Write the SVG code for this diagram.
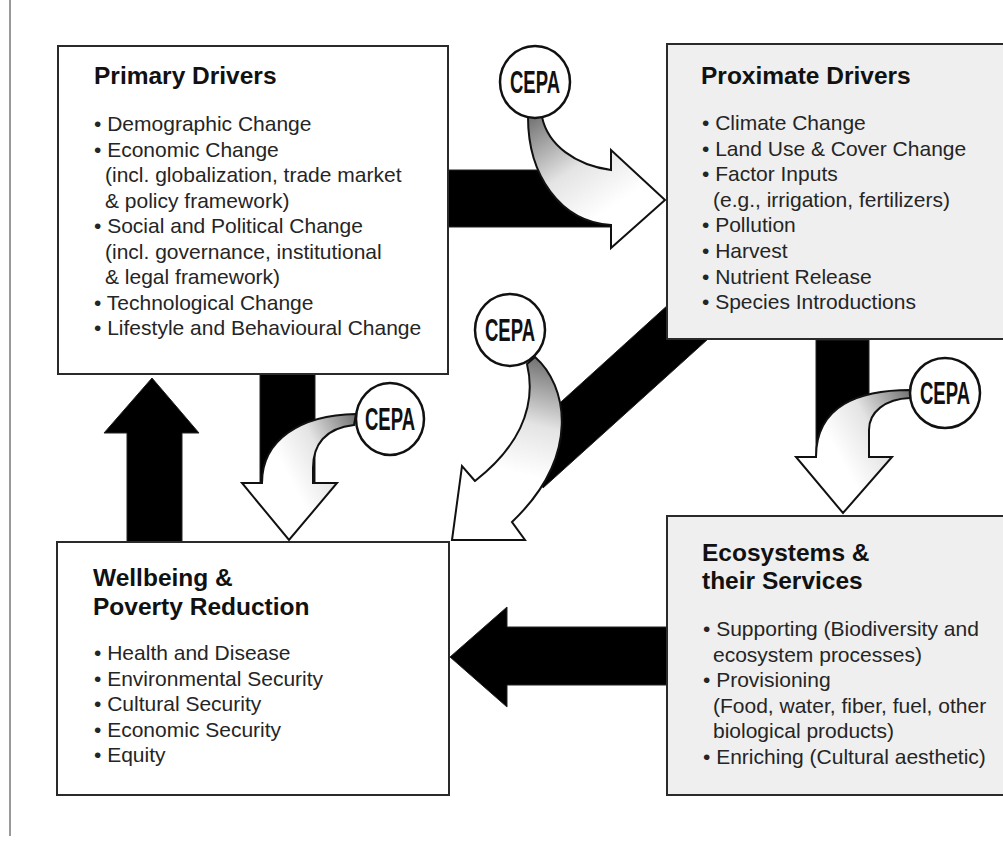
<svg xmlns="http://www.w3.org/2000/svg" width="1003" height="843" viewBox="0 0 1003 843">
<style>
.box{stroke:#2a2a2a;stroke-width:2}
.white{fill:#fff}
.gray{fill:#efefef}
.title{font-family:"Liberation Sans",Arial,sans-serif;font-weight:bold;font-size:24.5px;fill:#111}
.body{font-family:"Liberation Sans",Arial,sans-serif;font-size:21px;fill:#252525}
.blk{fill:#000;stroke:#222;stroke-width:1}
.wa{stroke:#111;stroke-width:2;stroke-linejoin:miter}
.cepa{fill:#fff;stroke:#111;stroke-width:2.5}
.ct{font-family:"Liberation Sans",Arial,sans-serif;font-weight:bold;font-size:31px;fill:#111;text-anchor:middle}
</style>
<defs>
<linearGradient id="g1" gradientUnits="userSpaceOnUse" x1="535" y1="117" x2="600" y2="215">
<stop offset="0" stop-color="#777"/><stop offset="0.55" stop-color="#e4e4e4"/><stop offset="1" stop-color="#fff"/></linearGradient>
<linearGradient id="g2" gradientUnits="userSpaceOnUse" x1="533" y1="360" x2="505" y2="470">
<stop offset="0" stop-color="#777"/><stop offset="0.55" stop-color="#e4e4e4"/><stop offset="1" stop-color="#fff"/></linearGradient>
<linearGradient id="g3" gradientUnits="userSpaceOnUse" x1="356" y1="420" x2="280" y2="460">
<stop offset="0" stop-color="#777"/><stop offset="0.55" stop-color="#e4e4e4"/><stop offset="1" stop-color="#fff"/></linearGradient>
<linearGradient id="g4" gradientUnits="userSpaceOnUse" x1="910" y1="395" x2="830" y2="440">
<stop offset="0" stop-color="#777"/><stop offset="0.55" stop-color="#e4e4e4"/><stop offset="1" stop-color="#fff"/></linearGradient>
</defs>
<rect width="1003" height="843" fill="#fff"/>
<line x1="10" y1="0" x2="10" y2="836" stroke="#777" stroke-width="1.5"/>

<g id="connectors">
<rect class="blk" x="447" y="170" width="168" height="57"/>
<polygon class="blk" points="712,265 749,302 543,488 530,430"/>
<rect class="blk" x="260" y="374" width="55" height="110"/>
<rect class="blk" x="816" y="340" width="53" height="118"/>
<polygon class="blk" points="127,542 127,433 104,433 152,378 199,433 182,433 182,542"/>
<polygon class="blk" points="667,627 507,627 507,607 450,657 507,707 507,685 667,685"/>
<path class="wa" fill="url(#g1)" d="M528,117 C528,175 560,222 611,225 L611,248 L665,200 L611,150 L611,170 C575,165 548,145 542,117 Z"/>
<path class="wa" fill="url(#g2)" d="M475,481 L462,466 L452,540 L525,540 L512,522 C582,455 567,385 535,357 L527,364 C538,410 515,450 475,481 Z"/>
<path class="wa" fill="url(#g3)" d="M262,483 L242,483 L289,540 L337,483 L313,483 L313,468 C313,445 325,428 354,425 L356,414 C300,415 262,440 262,483 Z"/>
<path class="wa" fill="url(#g4)" d="M816,457 L796,457 L843,513 L892,457 L869,457 L869,430 C869,412 885,399 910,398 L910,390 C860,390 816,405 816,457 Z"/>
</g>

<g id="primary-drivers">
<rect class="box white" x="58" y="46" width="390" height="328"/>
<text class="title" x="94" y="84">Primary Drivers</text>
<text class="body" x="94" y="131">• Demographic Change</text>
<text class="body" x="94" y="156.5">• Economic Change</text>
<text class="body" x="105" y="182">(incl. globalization, trade market</text>
<text class="body" x="105" y="207.5">&amp; policy framework)</text>
<text class="body" x="94" y="233">• Social and Political Change</text>
<text class="body" x="105" y="258.5">(incl. governance, institutional</text>
<text class="body" x="105" y="284">&amp; legal framework)</text>
<text class="body" x="94" y="309.5">• Technological Change</text>
<text class="body" x="94" y="335">• Lifestyle and Behavioural Change</text>
</g>

<g id="proximate-drivers">
<rect class="box gray" x="667" y="44" width="345" height="295"/>
<text class="title" x="701" y="84">Proximate Drivers</text>
<text class="body" x="702" y="130">• Climate Change</text>
<text class="body" x="702" y="155.6">• Land Use &amp; Cover Change</text>
<text class="body" x="702" y="181.2">• Factor Inputs</text>
<text class="body" x="713" y="206.8">(e.g., irrigation, fertilizers)</text>
<text class="body" x="702" y="232.4">• Pollution</text>
<text class="body" x="702" y="258">• Harvest</text>
<text class="body" x="702" y="283.6">• Nutrient Release</text>
<text class="body" x="702" y="309.2">• Species Introductions</text>
</g>

<g id="wellbeing">
<rect class="box white" x="57" y="542" width="392" height="253"/>
<text class="title" x="93" y="586">Wellbeing &amp;</text>
<text class="title" x="93" y="615">Poverty Reduction</text>
<text class="body" x="94" y="660">• Health and Disease</text>
<text class="body" x="94" y="685.7">• Environmental Security</text>
<text class="body" x="94" y="711.2">• Cultural Security</text>
<text class="body" x="94" y="736.7">• Economic Security</text>
<text class="body" x="94" y="762.3">• Equity</text>
</g>

<g id="ecosystems">
<rect class="box gray" x="667" y="516" width="345" height="279"/>
<text class="title" x="702" y="561">Ecosystems &amp;</text>
<text class="title" x="702" y="589">their Services</text>
<text class="body" x="703" y="636">• Supporting (Biodiversity and</text>
<text class="body" x="713" y="661.5">ecosystem processes)</text>
<text class="body" x="703" y="687">• Provisioning</text>
<text class="body" x="713" y="712.5">(Food, water, fiber, fuel, other</text>
<text class="body" x="713" y="738">biological products)</text>
<text class="body" x="703" y="763.5">• Enriching (Cultural aesthetic)</text>
</g>

<g id="cepa-1">
<ellipse class="cepa" cx="535" cy="82" rx="35" ry="36"/>
<text class="ct" x="535" y="93" textLength="50" lengthAdjust="spacingAndGlyphs">CEPA</text>
</g>
<g id="cepa-2">
<ellipse class="cepa" cx="510" cy="330" rx="35" ry="36"/>
<text class="ct" x="510" y="341" textLength="50" lengthAdjust="spacingAndGlyphs">CEPA</text>
</g>
<g id="cepa-3">
<ellipse class="cepa" cx="390" cy="419" rx="34" ry="36"/>
<text class="ct" x="390" y="430" textLength="50" lengthAdjust="spacingAndGlyphs">CEPA</text>
</g>
<g id="cepa-4">
<ellipse class="cepa" cx="945" cy="393" rx="35" ry="35"/>
<text class="ct" x="945" y="404" textLength="50" lengthAdjust="spacingAndGlyphs">CEPA</text>
</g>
</svg>
